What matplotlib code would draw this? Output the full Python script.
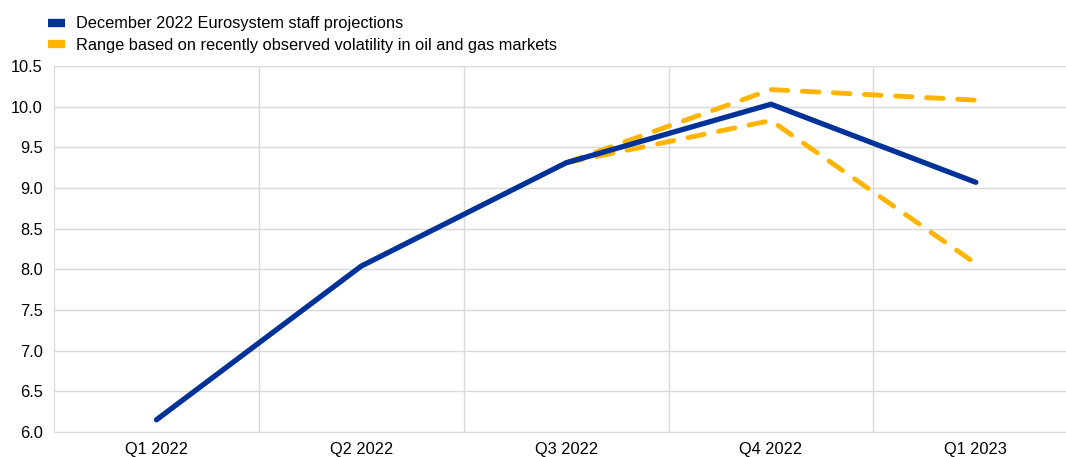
import matplotlib.pyplot as plt
from matplotlib.lines import Line2D

plt.rcParams['font.family'] = ['Liberation Sans', 'DejaVu Sans']

quarters = ["Q1 2022", "Q2 2022", "Q3 2022", "Q4 2022", "Q1 2023"]
projections = [6.15, 8.04, 9.31, 10.03, 9.07]
upper_range = [None, None, 9.31, 10.21, 10.08]
lower_range = [None, None, 9.31, 9.83, 8.07]

blue = "#003299"
yellow = "#ffb400"
grid_col = "#d9d9d9"
fs = 11.8

fig = plt.figure(figsize=(10.66, 4.57), dpi=100)
ax = fig.add_axes([54 / 1066, 25 / 457, 1012 / 1066, 366 / 457])

x = list(range(len(quarters)))
x_rng = [i for i, v in zip(x, upper_range) if v is not None]
up = [v for v in upper_range if v is not None]
lo = [v for v in lower_range if v is not None]

# range lines (dashed), then the projection on top
ax.plot(x_rng, up, color=yellow, lw=3.5, linestyle=(0, (3.4, 3)),
        dash_capstyle="round", zorder=3)
ax.plot(x_rng, lo, color=yellow, lw=3.5, linestyle=(0, (3.4, 3)),
        dash_capstyle="round", zorder=3)
ax.plot(x, projections, color=blue, lw=3.8, solid_capstyle="round", zorder=4)

ax.set_xlim(-0.5, 4.44)
ax.set_ylim(6.0, 10.5)
ax.set_yticks([6.0 + 0.5 * i for i in range(10)])
ax.set_yticklabels([f"{6.0 + 0.5 * i:.1f}" for i in range(10)], fontsize=fs)
ax.set_xticks(x)
ax.set_xticklabels(quarters, fontsize=fs)
ax.set_xticks([0.5, 1.5, 2.5, 3.5], minor=True)
ax.tick_params(which="both", length=0)
ax.tick_params(axis="x", pad=7)
ax.tick_params(axis="y", pad=8)
ax.grid(axis="y", color=grid_col, lw=1)
ax.grid(axis="x", which="minor", color=grid_col, lw=1)
ax.set_axisbelow(True)
for s in ["top", "right"]:
    ax.spines[s].set_visible(False)
for s in ["left", "bottom"]:
    ax.spines[s].set_color(grid_col)

handles = [Line2D([], [], color=blue, lw=6, solid_capstyle="butt"),
           Line2D([], [], color=yellow, lw=6, solid_capstyle="butt")]
labels = ["December 2022 Eurosystem staff projections",
          "Range based on recently observed volatility in oil and gas markets"]
fig.legend(handles, labels, loc="upper left", bbox_to_anchor=(37 / 1066, 1 - 5 / 457),
           frameon=False, fontsize=fs, handlelength=1.0, handletextpad=0.7,
           labelspacing=0.38, borderaxespad=0.3)

fig.savefig("out.png", dpi=100)
